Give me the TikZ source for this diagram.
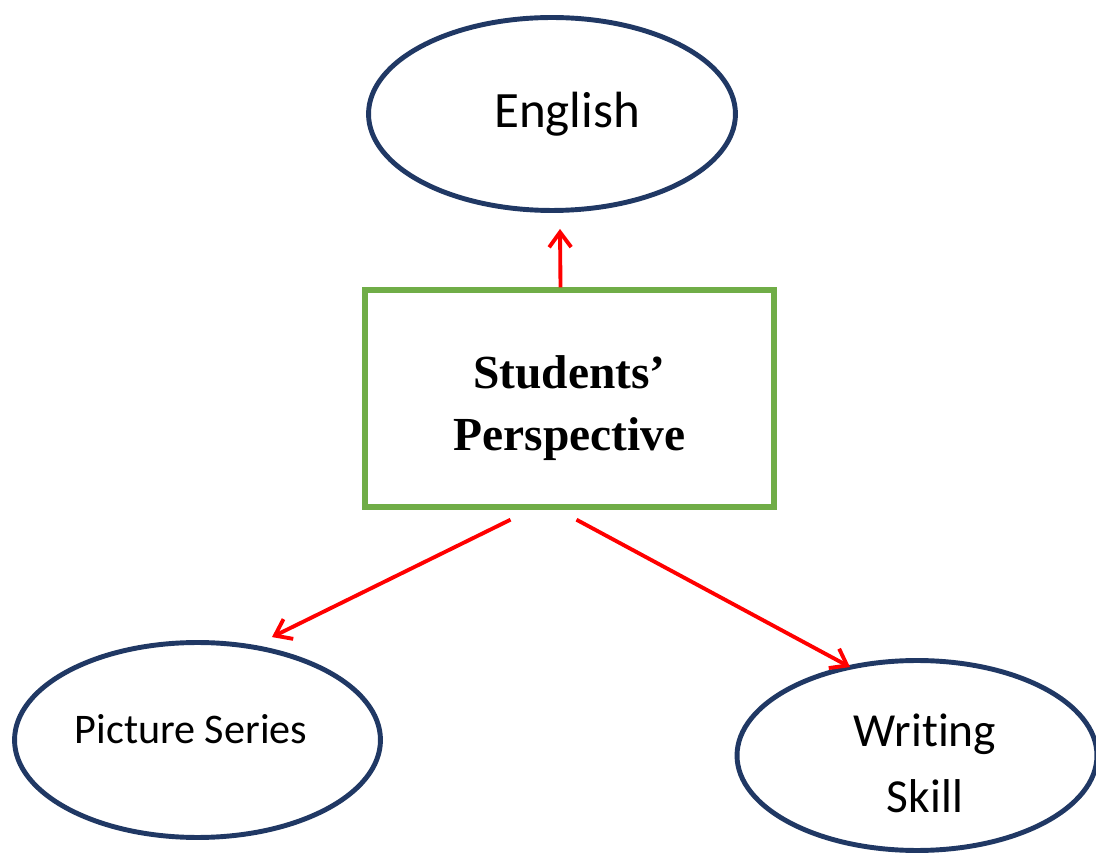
\documentclass[tikz,border=0pt]{standalone}
\usepackage{fontspec}
\setmainfont{Liberation Serif}
\newfontfamily\calibri[Ligatures=NoCommon]{Carlito}
\usetikzlibrary{arrows.meta,shapes.geometric}
\definecolor{navy}{HTML}{203864}
\definecolor{leafgreen}{HTML}{70AD47}

\begin{document}
\begin{tikzpicture}[x=0.02cm, y=-0.02cm,
			topic/.style={ellipse, draw=navy, line width=2.8pt, inner sep=0pt},
			centre/.style={rectangle, draw=leafgreen, line width=3.1pt, minimum width=8.18cm, minimum height=4.34cm},
			word/.style={font=\calibri\fontsize{#1}{37.5}\selectfont, align=center},
			link/.style={draw=red, line width=2.2pt, -{Straight Barb[length=0.3cm,width=0.44cm]}}]
			\useasboundingbox (0,0) rectangle (1096,854);
			\clip (0,0) rectangle (1096,854);
			\node[centre, label={[yshift=-0.2cm, align=center, font=\fontsize{27}{35.2}\selectfont\bfseries]center:Students'\\Perspective}] (persp) at (569.5,398.5) {};
			\node[topic, minimum width=7.34cm, minimum height=3.86cm, label={[word=29, xshift=0.3cm]center:English}] (english) at (552,114) {};
			\node[topic, minimum width=7.32cm, minimum height=3.9cm, label={[word=24, xshift=-0.13cm, yshift=0.22cm]center:Picture Series}] (series) at (197.5,740) {};
			\node[topic, minimum width=7.2cm, minimum height=3.8cm, label={[word=27, xshift=0.16cm, yshift=-0.15cm]center:Writing\\Skill}] (writing) at (917,755.5) {};
			\begin{scope}[link]
				\draw ([xshift=-0.18cm]persp.north) -- ([xshift=0.16cm, yshift=-0.32cm]english.south);
				\draw ([xshift=-1.18cm, yshift=-0.2cm]persp.south) -- ([xshift=1.49cm, yshift=0.06cm]series.north);
				\draw ([xshift=0.14cm, yshift=-0.2cm]persp.south) -- ([xshift=-1.34cm, yshift=-0.18cm]writing.north);
			\end{scope}
		\end{tikzpicture}
\end{document}
